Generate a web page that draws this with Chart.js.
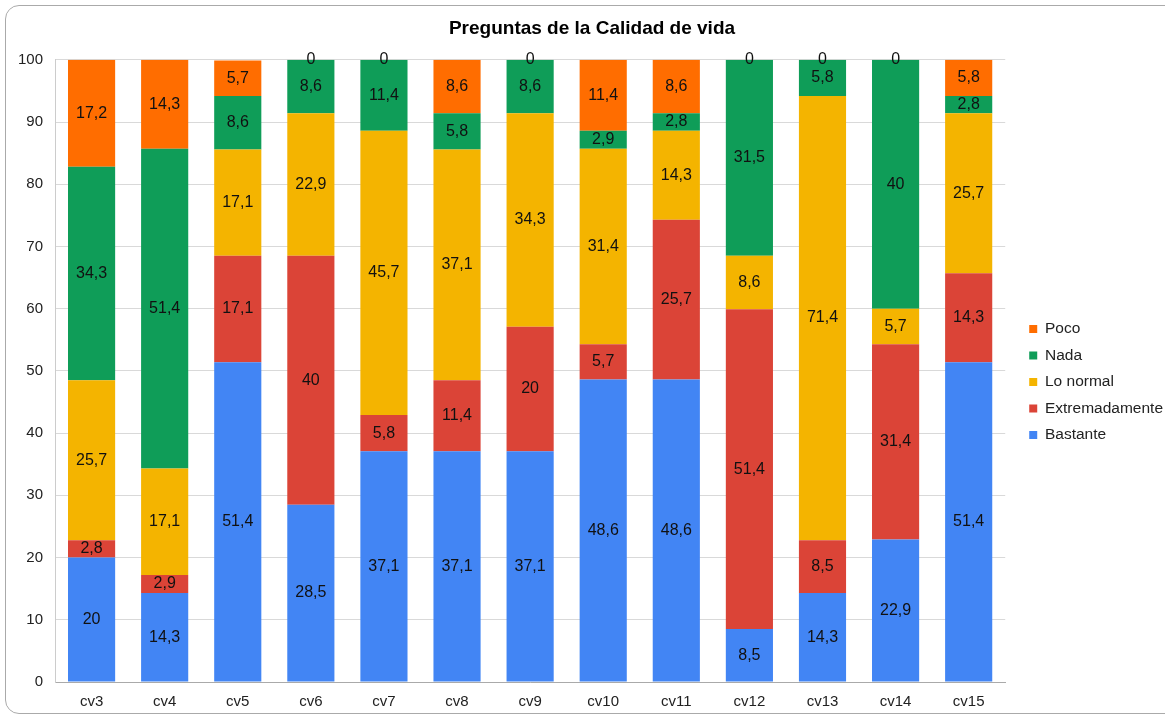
<!DOCTYPE html>
<html>
<head>
<meta charset="utf-8">
<script src="https://cdn.jsdelivr.net/npm/chart.js@4.4.1/dist/chart.umd.min.js"></script>
<style>
  html, body { margin: 0; padding: 0; background: #fff; }
  #wrap { position: relative; width: 1165px; height: 715px; overflow: hidden; }
  #frame { position: absolute; left: 5px; top: 5px; width: 1175px; height: 709px; border: 1px solid #aaa; border-radius: 14px; pointer-events: none; box-sizing: border-box; }
</style>
</head>
<body>
<div id="wrap">
  <canvas id="chart" width="1165" height="715"></canvas>
  <div id="frame"></div>
</div>
<script>
const categories = ['cv3', 'cv4', 'cv5', 'cv6', 'cv7', 'cv8', 'cv9', 'cv10', 'cv11', 'cv12', 'cv13', 'cv14', 'cv15'];
const bastante       = [20, 14.3, 51.4, 28.5, 37.1, 37.1, 37.1, 48.6, 48.6, 8.5, 14.3, 22.9, 51.4];
const extremadamente = [2.8, 2.9, 17.1, 40, 5.8, 11.4, 20, 5.7, 25.7, 51.4, 8.5, 31.4, 14.3];
const loNormal       = [25.7, 17.1, 17.1, 22.9, 45.7, 37.1, 34.3, 31.4, 14.3, 8.6, 71.4, 5.7, 25.7];
const nada           = [34.3, 51.4, 8.6, 8.6, 11.4, 5.8, 8.6, 2.9, 2.8, 31.5, 5.8, 40, 2.8];
const poco           = [17.2, 14.3, 5.7, 0, 0, 8.6, 0, 11.4, 8.6, 0, 0, 0, 5.8];
const yTicks = [0, 10, 20, 30, 40, 50, 60, 70, 80, 90, 100];

const FONT = "'Liberation Sans', Arial, sans-serif";

// draws the value in the middle of each segment (comma decimals)
const barLabels = {
    id: 'barLabels',
    afterDatasetsDraw(chart) {
        const ctx = chart.ctx;
        ctx.save();
        ctx.font = '16px ' + FONT;
        ctx.fillStyle = '#111';
        ctx.textAlign = 'center';
        ctx.textBaseline = 'middle';
        chart.data.datasets.forEach((ds, i) => {
            const meta = chart.getDatasetMeta(i);
            meta.data.forEach((bar, j) => {
                const v = ds.data[j];
                const y = (bar.y + bar.base) / 2;
                ctx.fillText(String(v).replace('.', ','), bar.x, y);
            });
        });
        ctx.restore();
    }
};

// nudge legend and title a bit, like the original sheet
const boxNudge = {
    id: 'boxNudge',
    afterLayout(chart) {
        const lg = chart.legend;
        if (lg) {
            lg.left += 13; lg.right += 13;
            lg.top += 17; lg.bottom += 17;
        }
        const tb = chart.titleBlock;
        if (tb) { tb.left += 9; tb.right += 9; }
    }
};

new Chart(document.getElementById('chart'), {
    type: 'bar',
    data: {
        labels: categories,
        datasets: [
            { label: 'Bastante', data: bastante, backgroundColor: '#4285f4' },
            { label: 'Extremadamente', data: extremadamente, backgroundColor: '#db4437' },
            { label: 'Lo normal', data: loNormal, backgroundColor: '#f4b400' },
            { label: 'Nada', data: nada, backgroundColor: '#0f9d58' },
            { label: 'Poco', data: poco, backgroundColor: '#ff6d00' }
        ]
    },
    options: {
        responsive: false,
        animation: false,
        layout: { padding: { left: 6, right: 5, top: 8, bottom: -7 } },
        datasets: { bar: { categoryPercentage: 1, barPercentage: 0.645 } },
        plugins: {
            title: {
                display: true,
                text: 'Preguntas de la Calidad de vida',
                color: '#000',
                font: { family: FONT, size: 19, weight: 'bold' },
                padding: { top: 9, bottom: 20 }
            },
            legend: {
                position: 'right',
                reverse: true,
                labels: {
                    boxWidth: 8,
                    boxHeight: 8,
                    padding: 11,
                    color: '#222',
                    font: { family: FONT, size: 15.5 }
                }
            },
            tooltip: { enabled: false }
        },
        scales: {
            x: {
                stacked: true,
                grid: { display: false, drawTicks: false },
                border: { color: '#aaa' },
                ticks: { color: '#222', font: { family: FONT, size: 15 }, padding: 11 }
            },
            y: {
                stacked: true,
                min: 0,
                max: 100,
                afterBuildTicks(axis) { axis.ticks = yTicks.map(v => ({ value: v })); },
                grid: { color: '#d9d9d9', drawTicks: false },
                border: { color: '#ccc' },
                ticks: { color: '#222', font: { family: FONT, size: 15 }, padding: 12 }
            }
        }
    },
    plugins: [barLabels, boxNudge]
});
</script>
</body>
</html>
